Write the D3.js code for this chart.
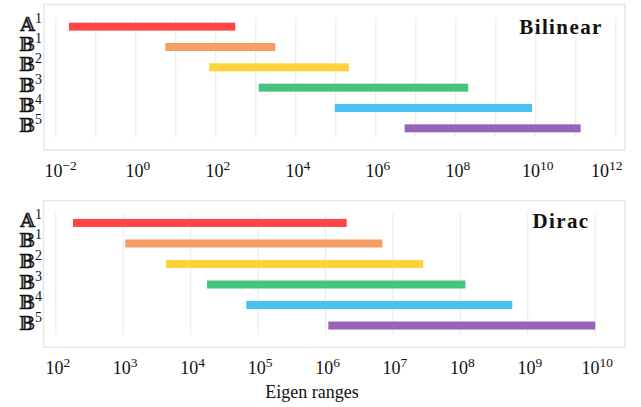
<!DOCTYPE html>
<html lang="en">
<head>
    <meta charset="UTF-8">
    <title>Eigen ranges: Bilinear vs Dirac</title>
    <script src="https://d3js.org/d3.v7.min.js"></script>
    <style>
        body { margin: 0; background: #fff; }
        .frame { fill: none; stroke: #e6e6e6; stroke-width: 1.5; }
        .grid line { stroke: #e9e9e9; stroke-width: 1; }
        .grid .domain { display: none; }
        .ticklab text { font-family: "Liberation Serif", serif; font-size: 18px; fill: #111; }
        .ticklab .domain { display: none; }
        .rowlab { font-family: "DejaVu Serif", "DejaVu Sans", serif; font-size: 19px; fill: #111; text-anchor: end; }
        .panel-title { font-family: "Liberation Serif", serif; font-size: 21px; font-weight: bold; letter-spacing: 1.4px; text-anchor: middle; fill: #111; }
        .axis-name { font-family: "Liberation Serif", serif; font-size: 18px; text-anchor: middle; fill: #111; }
    </style>
</head>
<body>
    <script>
        // row labels (double-struck letter + superscript)
        const rowLetters = ['𝔸', '𝔹', '𝔹', '𝔹', '𝔹', '𝔹'];
        const rowSups = ['1', '1', '2', '3', '4', '5'];
        const rowColors = ['#ff4646', '#f4a064', '#ffd23c', '#46c47e', '#46c3f0', '#9664b9'];

        // eigenvalue ranges
        const bilinearLow  = [0.022, 5.6, 71, 1216, 9.7e4, 5.4e6];
        const bilinearHigh = [316, 3160, 2.2e5, 2.1e8, 8.3e9, 1.36e11];
        const diracLow  = [183, 1090, 4400, 1.78e4, 6.8e4, 1.12e6];
        const diracHigh = [2.1e6, 7.1e6, 2.86e7, 1.21e8, 6.0e8, 1.02e10];

        // exponents for grid lines and tick labels
        const bilinearGrid = d3.range(-2, 13);
        const bilinearTicks = [-2, 0, 2, 4, 6, 8, 10, 12];
        const diracGrid = d3.range(2, 11);
        const diracTicks = d3.range(2, 11);

        const svg = d3.select('body').append('svg')
            .attr('width', 641)
            .attr('height', 407);

        function drawPanel(p) {
            const g = svg.append('g');
            const x = d3.scaleLog().domain(p.domain).range([p.gx0, p.gx1]);
            const y = d3.scaleBand()
                .domain(d3.range(rowLetters.length))
                .range([p.top + 12, p.bottom - 11.5]);

            // grid lines every decade
            g.append('g')
                .attr('class', 'grid')
                .attr('transform', `translate(0,${y.range()[1] - 1})`)
                .call(d3.axisBottom(x)
                    .tickValues(p.grid.map(e => Math.pow(10, e)))
                    .tickSize(-(y.range()[1] - y.range()[0] - 2))
                    .tickFormat(''));

            g.append('rect')
                .attr('class', 'frame')
                .attr('x', p.left)
                .attr('y', p.top)
                .attr('width', p.right - p.left)
                .attr('height', p.bottom - p.top);

            // bars
            g.selectAll('.bar')
                .data(rowLetters.map((_, i) => i))
                .enter().append('rect')
                .attr('class', 'bar')
                .attr('x', i => x(p.low[i]))
                .attr('width', i => x(p.high[i]) - x(p.low[i]))
                .attr('y', i => y(i) + y.bandwidth() / 2 - 4)
                .attr('height', 8)
                .attr('fill', i => rowColors[i]);

            // row labels
            const lab = g.selectAll('.rowlab')
                .data(rowLetters.map((_, i) => i))
                .enter().append('text')
                .attr('class', 'rowlab')
                .attr('x', 42)
                .attr('y', i => y(i) + y.bandwidth() / 2 + 4);
            lab.append('tspan')
                .attr('stroke', '#111')
                .attr('stroke-width', 0.5)
                .text(i => rowLetters[i]);
            lab.append('tspan')
                .attr('dy', -8)
                .style('font-family', '"Liberation Serif", serif')
                .style('font-size', '14px')
                .text(i => rowSups[i]);

            // tick labels 10^n
            const ax = g.append('g')
                .attr('class', 'ticklab')
                .attr('transform', `translate(0,${p.bottom})`)
                .call(d3.axisBottom(x)
                    .tickValues(p.ticks.map(e => Math.pow(10, e)))
                    .tickSize(0)
                    .tickFormat(''));
            ax.selectAll('.tick text').each(function (d) {
                const t = d3.select(this)
                    .attr('dy', null)
                    .attr('y', 27)
                    .attr('x', 2);
                const e = Math.round(Math.log10(d));
                t.append('tspan').text('10');
                t.append('tspan')
                    .attr('dy', -7)
                    .style('font-size', '13.5px')
                    .text(e < 0 ? '\u2212' + (-e) : String(e));
                // keep the label inside the frame
                const w = this.getComputedTextLength();
                const cx = x(d) + 2;
                if (cx - w / 2 < p.left) t.attr('x', p.left - x(d) + w / 2);
                if (cx + w / 2 > p.right - 3) t.attr('x', p.right - 3 - x(d) - w / 2);
            });

            g.append('text')
                .attr('class', 'panel-title')
                .attr('x', 561)
                .attr('y', p.top + p.titleDy)
                .text(p.title);
        }

        drawPanel({
            title: 'Bilinear', titleDy: 29,
            left: 44, right: 625, top: 4.5, bottom: 150,
            domain: [1e-2, 1e12], gx0: 55.3, gx1: 615.3,
            grid: bilinearGrid, ticks: bilinearTicks,
            low: bilinearLow, high: bilinearHigh
        });

        drawPanel({
            title: 'Dirac', titleDy: 27.6,
            left: 43.5, right: 625, top: 200.7, bottom: 347.3,
            domain: [1e2, 1e10], gx0: 55.3, gx1: 594.7,
            grid: diracGrid, ticks: diracTicks,
            low: diracLow, high: diracHigh
        });

        svg.append('text')
            .attr('class', 'axis-name')
            .attr('x', 312)
            .attr('y', 398)
            .text('Eigen ranges');
    </script>
</body>
</html>
